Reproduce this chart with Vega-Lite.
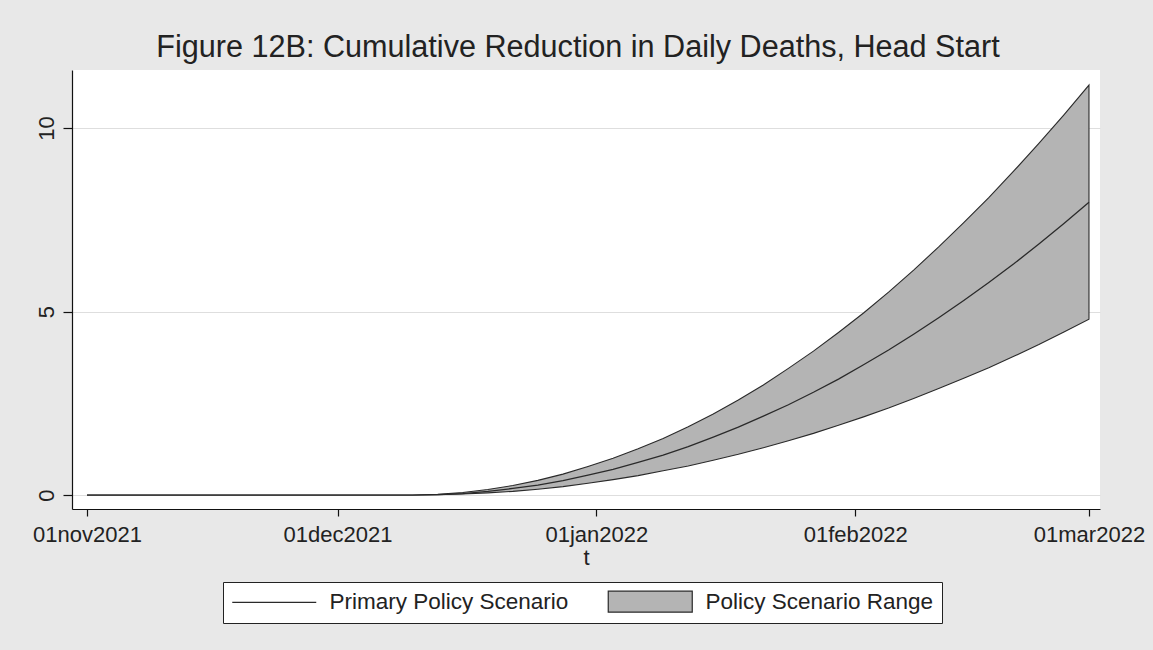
{
  "$schema": "https://vega.github.io/schema/vega-lite/v6.json",
  "width": 1028,
  "height": 439,
  "autosize": "none",
  "padding": {"left": 72, "top": 70, "right": 53, "bottom": 141},
  "background": "#e8e8e8",
  "config": {"font": "Liberation Sans", "view": {"stroke": null, "fill": "white"}},
  "title": {"text": "Figure 12B: Cumulative Reduction in Daily Deaths, Head Start", "fontSize": 30.6, "font": "Liberation Sans", "fontWeight": "normal", "color": "#222", "baseline": "alphabetic", "offset": -18, "dx": -8, "anchor": "middle"},
  "data": {"values": [
    {"t": "2021-11-01", "mid": 0, "hi": 0, "lo": 0},
    {"t": "2021-12-10", "mid": 0, "hi": 0, "lo": 0},
    {"t": "2021-12-13", "mid": 0.01, "hi": 0.02, "lo": 0.01},
    {"t": "2021-12-16", "mid": 0.04, "hi": 0.07, "lo": 0.03},
    {"t": "2021-12-19", "mid": 0.10, "hi": 0.15, "lo": 0.06},
    {"t": "2021-12-22", "mid": 0.18, "hi": 0.26, "lo": 0.10},
    {"t": "2021-12-25", "mid": 0.27, "hi": 0.40, "lo": 0.16},
    {"t": "2021-12-28", "mid": 0.39, "hi": 0.57, "lo": 0.23},
    {"t": "2021-12-31", "mid": 0.54, "hi": 0.78, "lo": 0.32},
    {"t": "2022-01-03", "mid": 0.70, "hi": 1.00, "lo": 0.42},
    {"t": "2022-01-06", "mid": 0.89, "hi": 1.26, "lo": 0.53},
    {"t": "2022-01-09", "mid": 1.09, "hi": 1.54, "lo": 0.66},
    {"t": "2022-01-12", "mid": 1.32, "hi": 1.86, "lo": 0.79},
    {"t": "2022-01-15", "mid": 1.58, "hi": 2.21, "lo": 0.95},
    {"t": "2022-01-18", "mid": 1.85, "hi": 2.59, "lo": 1.11},
    {"t": "2022-01-21", "mid": 2.15, "hi": 3.00, "lo": 1.29},
    {"t": "2022-01-24", "mid": 2.46, "hi": 3.45, "lo": 1.48},
    {"t": "2022-01-27", "mid": 2.80, "hi": 3.92, "lo": 1.68},
    {"t": "2022-01-30", "mid": 3.16, "hi": 4.43, "lo": 1.90},
    {"t": "2022-02-02", "mid": 3.55, "hi": 4.96, "lo": 2.13},
    {"t": "2022-02-05", "mid": 3.95, "hi": 5.53, "lo": 2.37},
    {"t": "2022-02-08", "mid": 4.38, "hi": 6.13, "lo": 2.63},
    {"t": "2022-02-11", "mid": 4.83, "hi": 6.76, "lo": 2.90},
    {"t": "2022-02-14", "mid": 5.30, "hi": 7.42, "lo": 3.18},
    {"t": "2022-02-17", "mid": 5.79, "hi": 8.10, "lo": 3.47},
    {"t": "2022-02-20", "mid": 6.30, "hi": 8.83, "lo": 3.78},
    {"t": "2022-02-23", "mid": 6.84, "hi": 9.58, "lo": 4.10},
    {"t": "2022-02-26", "mid": 7.40, "hi": 10.36, "lo": 4.44},
    {"t": "2022-03-01", "mid": 7.98, "hi": 11.17, "lo": 4.79}
  ]},
  "encoding": {
    "x": {
      "field": "t", "type": "temporal",
      "scale": {"type": "utc", "domain": [1635569280000, 1646206848000]},
      "axis": {
        "title": "t", "titleFontSize": 22, "titleFont": "Liberation Sans", "titleFontWeight": "normal", "titleColor": "#222", "titlePadding": 2,
        "values": [1635724800000, 1638316800000, 1640995200000, 1643673600000, 1646092800000],
        "labelExpr": "utcFormat(datum.value, '%d') + lower(utcFormat(datum.value, '%b')) + utcFormat(datum.value, '%Y')",
        "labelFontSize": 22, "labelColor": "#222", "labelPadding": 8, "labelFlush": false, "labelOverlap": false,
        "domainColor": "#111", "domainWidth": 1.2, "tickColor": "#111", "tickSize": 7, "tickWidth": 1.2, "grid": false
      }
    }
  },
  "layer": [
    {
      "mark": {"type": "area", "stroke": "#2a2a2a", "strokeWidth": 1.1, "opacity": 1, "fillOpacity": 1},
      "encoding": {
        "y": {
          "field": "lo", "type": "quantitative",
          "scale": {"domain": [-0.38, 11.58], "nice": false, "zero": false},
          "axis": {
            "title": null, "values": [0, 5, 10], "labelAngle": -90, "labelFontSize": 22, "labelColor": "#222", "labelPadding": 5,
            "domainColor": "#111", "domainWidth": 1.2, "tickColor": "#111", "tickSize": 9, "tickWidth": 1.2,
            "grid": true, "gridColor": "#dedede", "gridWidth": 1
          }
        },
        "y2": {"field": "hi"},
        "fill": {
          "datum": "Policy Scenario Range", "type": "nominal",
          "scale": {"domain": ["Primary Policy Scenario", "Policy Scenario Range"], "range": ["transparent", "#b4b4b4"]},
          "legend": {
            "title": null, "orient": "none", "legendX": 151, "legendY": 512, "direction": "horizontal",
            "fillColor": "white", "strokeColor": "#222", "padding": 8,
            "labelFontSize": 22.5, "labelFont": "Liberation Sans", "labelColor": "#222", "labelLimit": 400,
            "symbolSize": 400, "labelOffset": 76, "columnPadding": 36, "symbolStrokeWidth": 1.2, "symbolOpacity": 1
          }
        }
      }
    },
    {
      "mark": {"type": "line", "strokeWidth": 1.3},
      "encoding": {
        "y": {"field": "mid", "type": "quantitative"},
        "stroke": {
          "datum": "Primary Policy Scenario", "type": "nominal",
          "scale": {"domain": ["Primary Policy Scenario", "Policy Scenario Range"], "range": ["#2a2a2a", "#2a2a2a"]},
          "legend": {
            "title": null, "orient": "none", "legendX": 151, "legendY": 512, "direction": "horizontal",
            "fillColor": "white", "strokeColor": "#222", "padding": 8,
            "labelFontSize": 22.5, "labelFont": "Liberation Sans", "labelColor": "#222", "labelLimit": 400,
            "symbolSize": 400, "labelOffset": 76, "columnPadding": 36, "symbolStrokeWidth": 1.2, "symbolOpacity": 1
          }
        }
      }
    },
    {
      "mark": {"type": "point", "opacity": 0},
      "encoding": {
        "y": {"field": "mid", "type": "quantitative"},
        "shape": {
          "datum": "Primary Policy Scenario", "type": "nominal",
          "scale": {"domain": ["Primary Policy Scenario", "Policy Scenario Range"], "range": ["M-1,0H7.4", "M-1,-1.05H7.4V1.05H-1Z"]},
          "legend": {
            "title": null, "orient": "none", "legendX": 151, "legendY": 512, "direction": "horizontal",
            "fillColor": "white", "strokeColor": "#222", "padding": 8,
            "labelFontSize": 22.5, "labelFont": "Liberation Sans", "labelColor": "#222", "labelLimit": 400,
            "symbolSize": 400, "labelOffset": 76, "columnPadding": 36, "symbolStrokeWidth": 1.2, "symbolOpacity": 1
          }
        }
      }
    }
  ]
}
